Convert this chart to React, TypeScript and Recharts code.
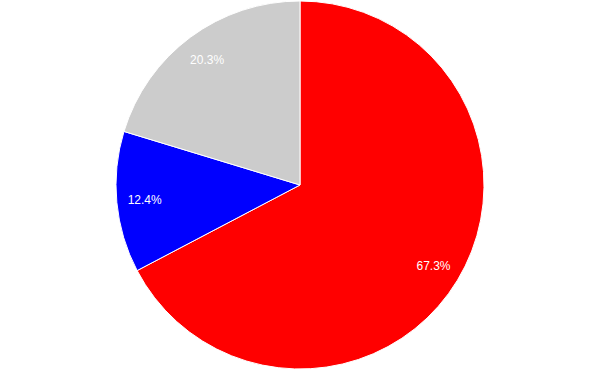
import { PieChart, Pie, Cell } from "recharts";

const names = ["A", "B", "C"];
const values = [67.3, 12.4, 20.3];
const colors = ["#ff0000", "#0000ff", "#cccccc"];

const data = names.map((name, i) => ({ name, value: values[i] }));

const RADIAN = Math.PI / 180;

function renderLabel(props: any) {
  const { cx, cy, midAngle, value } = props;
  const r = 156;
  const x = cx + r * Math.cos(-midAngle * RADIAN);
  const y = cy + r * Math.sin(-midAngle * RADIAN);
  return (
    <text
      x={x}
      y={y}
      fill="#ffffff"
      textAnchor="middle"
      dominantBaseline="central"
      fontSize={12}
      fontFamily="Liberation Sans, Arial, sans-serif"
    >
      {`${value.toFixed(1)}%`}
    </text>
  );
}

export default function App() {
  return (
    <div
      style={{
        position: "absolute",
        left: 0,
        top: 0,
        width: 600,
        height: 371,
        background: "#ffffff",
      }}
    >
      <PieChart
        width={600}
        height={371}
        margin={{ top: 0, right: 0, bottom: 0, left: 0 }}
      >
        <Pie
          data={data}
          dataKey="value"
          nameKey="name"
          cx={300}
          cy={185}
          outerRadius={184}
          startAngle={90}
          endAngle={-270}
          stroke="#ffffff"
          strokeWidth={1}
          label={renderLabel}
          labelLine={false}
          isAnimationActive={false}
        >
          {data.map((d, i) => (
            <Cell key={d.name} fill={colors[i]} />
          ))}
        </Pie>
      </PieChart>
    </div>
  );
}
